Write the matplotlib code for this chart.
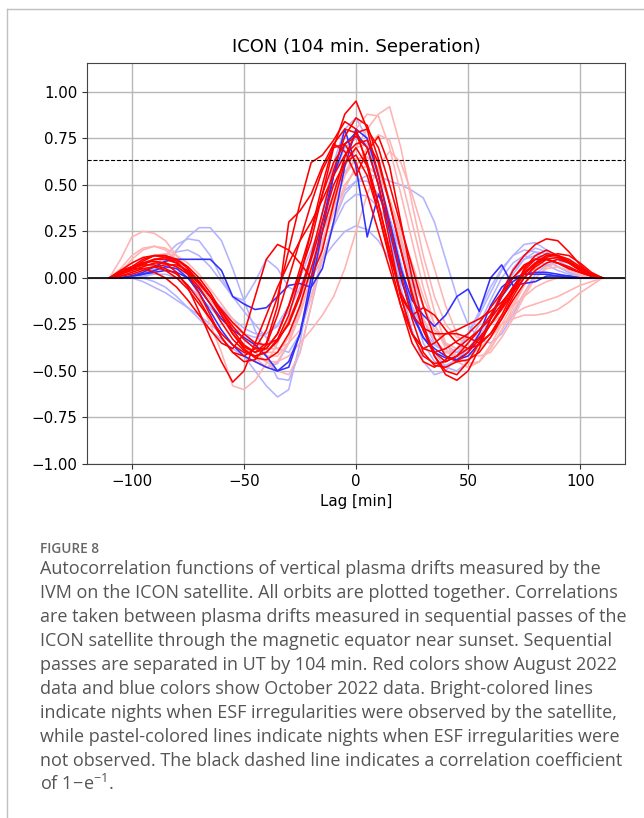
import matplotlib
matplotlib.use("Agg")
import matplotlib.pyplot as plt
from matplotlib.lines import Line2D
from matplotlib.ticker import FuncFormatter
import numpy as np

# lag grid [min], -110 .. 110 in 5 min steps
LAGS = np.arange(-110, 115, 5)

# August 2022, ESF observed (bright red)
AUG_ESF = [
    [0, 0.02, 0.05, 0.08, 0.1, 0.1, 0.08, 0.03, -0.03, -0.1, -0.18,
     -0.26, -0.33, -0.38, -0.38, -0.3, -0.15, 0.02, 0.2, 0.45, 0.7, 0.88, 0.95,
     0.8, 0.55, 0.28, 0.02, -0.22, -0.4, -0.47, -0.48, -0.45, -0.4, -0.33, -0.25,
     -0.16, -0.07, 0.02, 0.08, 0.12, 0.12, 0.1, 0.06, 0.02, 0],
    [0, 0.04, 0.06, 0.07, 0.07, 0.05, 0.02, -0.04, -0.12, -0.22, -0.32,
     -0.4, -0.42, -0.38, -0.28, -0.1, 0.15, 0.4, 0.62, 0.66, 0.74, 0.84, 0.8,
     0.6, 0.35, 0.1, -0.15, -0.35, -0.45, -0.48, -0.44, -0.38, -0.33, -0.28, -0.22,
     -0.14, -0.05, 0.03, 0.08, 0.1, 0.08, 0.06, 0.03, 0.01, 0],
    [0, 0.02, 0.06, 0.1, 0.12, 0.12, 0.1, 0.05, -0.02, -0.1, -0.2,
     -0.3, -0.37, -0.4, -0.35, -0.15, 0.3, 0.36, 0.45, 0.6, 0.72, 0.8, 0.78,
     0.62, 0.4, 0.15, -0.1, -0.3, -0.42, -0.46, -0.45, -0.42, -0.38, -0.32, -0.25,
     -0.17, -0.08, 0.0, 0.06, 0.1, 0.11, 0.08, 0.04, 0.01, 0],
    [0, 0.01, 0.03, 0.05, 0.06, 0.04, 0.0, -0.06, -0.14, -0.22, -0.3,
     -0.36, -0.4, -0.42, -0.4, -0.33, -0.2, 0.0, 0.25, 0.5, 0.72, 0.68, 0.55,
     0.68, 0.76, 0.6, 0.3, 0.0, -0.25, -0.42, -0.5, -0.52, -0.45, -0.35, -0.25,
     -0.15, -0.05, 0.04, 0.1, 0.13, 0.12, 0.09, 0.05, 0.02, 0],
    [0, 0.03, 0.05, 0.05, 0.03, 0.0, -0.05, -0.12, -0.2, -0.28, -0.35,
     -0.38, -0.3, -0.1, 0.1, 0.18, 0.15, 0.08, 0.0, 0.15, 0.4, 0.62, 0.7,
     0.6, 0.4, 0.15, -0.1, -0.3, -0.38, -0.35, -0.3, -0.3, -0.32, -0.35, -0.3,
     -0.2, -0.08, 0.05, 0.12, 0.15, 0.12, 0.08, 0.04, 0.01, 0],
    [0, 0.03, 0.06, 0.08, 0.09, 0.08, 0.03, -0.05, -0.18, -0.32, -0.45,
     -0.56, -0.5, -0.35, -0.2, -0.05, 0.08, 0.2, 0.3, 0.42, 0.55, 0.66, 0.72,
     0.74, 0.62, 0.4, 0.15, -0.1, -0.28, -0.4, -0.45, -0.42, -0.35, -0.28, -0.2,
     -0.1, 0.0, 0.07, 0.1, 0.1, 0.08, 0.05, 0.03, 0.01, 0],
    [0, 0.02, 0.04, 0.06, 0.08, 0.08, 0.06, 0.02, -0.05, -0.14, -0.24,
     -0.33, -0.39, -0.42, -0.4, -0.34, -0.24, -0.08, 0.12, 0.35, 0.58, 0.76, 0.86,
     0.82, 0.64, 0.4, 0.15, -0.08, -0.28, -0.42, -0.52, -0.55, -0.5, -0.38, -0.22,
     -0.08, 0.04, 0.12, 0.18, 0.21, 0.2, 0.14, 0.07, 0.02, 0],
    [0, 0.03, 0.05, 0.07, 0.1, 0.11, 0.1, 0.06, 0.0, -0.08, -0.18,
     -0.28, -0.36, -0.4, -0.38, -0.3, -0.15, 0.05, 0.25, 0.45, 0.62, 0.72, 0.76,
     0.7, 0.5, 0.2, -0.1, -0.2, -0.16, -0.2, -0.28, -0.35, -0.38, -0.36, -0.3,
     -0.22, -0.12, -0.03, 0.04, 0.08, 0.1, 0.08, 0.05, 0.02, 0],
    [0, 0.01, 0.02, 0.04, 0.06, 0.07, 0.07, 0.04, -0.02, -0.1, -0.2,
     -0.3, -0.38, -0.43, -0.44, -0.4, -0.3, -0.15, 0.05, 0.25, 0.45, 0.65, 0.78,
     0.8, 0.7, 0.5, 0.28, 0.06, -0.15, -0.32, -0.42, -0.45, -0.44, -0.4, -0.32,
     -0.22, -0.1, 0.0, 0.07, 0.11, 0.13, 0.12, 0.08, 0.03, 0],
    [0, 0.04, 0.08, 0.11, 0.12, 0.11, 0.08, 0.03, -0.03, -0.1, -0.17,
     -0.24, -0.3, -0.35, -0.36, -0.33, -0.25, -0.1, 0.1, 0.3, 0.5, 0.62, 0.66,
     0.55, 0.35, 0.12, -0.08, -0.2, -0.27, -0.3, -0.3, -0.28, -0.25, -0.22, -0.18,
     -0.13, -0.06, 0.02, 0.08, 0.12, 0.12, 0.09, 0.05, 0.02, 0],
    [0, 0.02, 0.05, 0.09, 0.12, 0.12, 0.09, 0.02, -0.08, -0.2, -0.32,
     -0.4, -0.45, -0.44, -0.36, -0.2, 0.0, 0.2, 0.4, 0.58, 0.7, 0.72, 0.62,
     0.45, 0.25, 0.05, -0.15, -0.3, -0.38, -0.4, -0.38, -0.34, -0.3, -0.24, -0.16,
     -0.08, 0.0, 0.06, 0.1, 0.1, 0.08, 0.05, 0.03, 0.01, 0],
]

# August 2022, no ESF (pastel red)
AUG_QUIET = [
    [0, 0.1, 0.22, 0.25, 0.24, 0.2, 0.12, 0.02, -0.1, -0.25, -0.4,
     -0.58, -0.6, -0.55, -0.46, -0.35, -0.22, -0.1, 0.05, 0.2, 0.38, 0.55, 0.7,
     0.8, 0.88, 0.92, 0.7, 0.4, 0.12, -0.1, -0.25, -0.32, -0.33, -0.3, -0.25,
     -0.2, -0.15, -0.1, -0.05, -0.02, 0.0, 0.01, 0.01, 0.0, 0],
    [0, 0.05, 0.12, 0.16, 0.17, 0.15, 0.1, 0.03, -0.05, -0.14, -0.22,
     -0.3, -0.36, -0.4, -0.45, -0.5, -0.52, -0.4, -0.15, 0.15, 0.42, 0.65, 0.8,
     0.88, 0.87, 0.7, 0.45, 0.2, -0.05, -0.25, -0.38, -0.45, -0.48, -0.45, -0.38,
     -0.28, -0.18, -0.08, 0.0, 0.05, 0.06, 0.04, 0.02, 0.01, 0],
    [0, 0.02, 0.05, 0.08, 0.1, 0.1, 0.08, 0.04, -0.02, -0.1, -0.18,
     -0.26, -0.33, -0.38, -0.42, -0.42, -0.35, -0.2, 0.0, 0.2, 0.4, 0.55, 0.64,
     0.65, 0.58, 0.42, 0.22, 0.02, -0.15, -0.28, -0.35, -0.38, -0.38, -0.35, -0.3,
     -0.25, -0.22, -0.2, -0.2, -0.19, -0.17, -0.13, -0.08, -0.04, 0],
    [0, 0.03, 0.06, 0.1, 0.12, 0.13, 0.12, 0.08, 0.02, -0.06, -0.14,
     -0.22, -0.3, -0.36, -0.4, -0.4, -0.32, -0.15, 0.05, 0.25, 0.45, 0.6, 0.7,
     0.72, 0.62, 0.42, 0.18, -0.05, -0.22, -0.33, -0.4, -0.42, -0.42, -0.38, -0.32,
     -0.25, -0.2, -0.16, -0.14, -0.12, -0.1, -0.07, -0.04, -0.02, 0],
    [0, 0.03, 0.1, 0.15, 0.17, 0.16, 0.12, 0.05, -0.03, -0.12, -0.2,
     -0.28, -0.36, -0.43, -0.48, -0.45, -0.35, -0.18, 0.0, 0.18, 0.35, 0.5, 0.58,
     0.6, 0.55, 0.42, 0.25, 0.08, -0.1, -0.25, -0.35, -0.42, -0.46, -0.45, -0.38,
     -0.28, -0.16, -0.04, 0.05, 0.1, 0.12, 0.1, 0.06, 0.02, 0],
    [0, 0.02, 0.04, 0.06, 0.08, 0.08, 0.06, 0.02, -0.04, -0.1, -0.17,
     -0.24, -0.3, -0.35, -0.38, -0.38, -0.35, -0.28, -0.1, 0.1, 0.3, 0.48, 0.6,
     0.7, 0.77, 0.74, 0.55, 0.3, 0.05, -0.18, -0.35, -0.45, -0.48, -0.45, -0.36,
     -0.25, -0.14, -0.04, 0.04, 0.08, 0.1, 0.08, 0.04, 0.02, 0],
    [0, 0.02, 0.05, 0.08, 0.1, 0.1, 0.08, 0.04, -0.02, -0.1, -0.2,
     -0.3, -0.38, -0.42, -0.45, -0.45, -0.42, -0.35, -0.28, -0.2, -0.1, 0.05, 0.25,
     0.45, 0.6, 0.68, 0.62, 0.45, 0.25, 0.05, -0.15, -0.3, -0.4, -0.42, -0.4,
     -0.32, -0.22, -0.1, 0.0, 0.06, 0.08, 0.06, 0.03, 0.01, 0],
]

# October 2022, ESF observed (bright blue)
OCT_ESF = [
    [0, 0.0, 0.01, 0.02, 0.04, 0.06, 0.05, 0.0, -0.08, -0.18, -0.28,
     -0.36, -0.42, -0.45, -0.48, -0.5, -0.45, -0.3, -0.05, 0.25, 0.55, 0.8, 0.6,
     0.22, 0.45, 0.3, 0.05, -0.18, -0.32, -0.4, -0.43, -0.44, -0.4, -0.3, -0.15,
     -0.05, 0.0, 0.02, 0.02, 0.02, 0.01, 0.01, 0.0, 0.0, 0],
    [0, 0.0, 0.01, 0.03, 0.06, 0.09, 0.1, 0.1, 0.1, 0.1, 0.04,
     -0.1, -0.14, -0.17, -0.16, -0.1, -0.04, -0.03, -0.05, 0.05, 0.3, 0.6, 0.8,
     0.75, 0.55, 0.3, 0.05, -0.12, -0.2, -0.26, -0.2, -0.1, -0.06, -0.18, 0.0,
     0.07, -0.04, -0.03, -0.02, 0.01, 0.01, 0.0, 0.0, 0.0, 0],
    [0, 0.0, 0.01, 0.02, 0.03, 0.04, 0.03, 0.0, -0.06, -0.14, -0.22,
     -0.28, -0.32, -0.36, -0.42, -0.5, -0.48, -0.3, 0.0, 0.3, 0.55, 0.72, 0.78,
     0.7, 0.5, 0.25, 0.0, -0.2, -0.32, -0.38, -0.42, -0.44, -0.42, -0.35, -0.22,
     -0.1, -0.02, 0.02, 0.03, 0.03, 0.02, 0.01, 0.0, 0.0, 0],
]

# October 2022, no ESF (pastel blue)
OCT_QUIET = [
    [0, 0.0, 0.0, -0.02, -0.05, -0.08, -0.12, -0.16, -0.2, -0.25, -0.3,
     -0.36, -0.42, -0.5, -0.58, -0.64, -0.6, -0.35, 0.0, 0.35, 0.62, 0.8, 0.86,
     0.75, 0.5, 0.22, -0.05, -0.28, -0.45, -0.52, -0.5, -0.42, -0.3, -0.18, -0.05,
     0.05, 0.12, 0.15, 0.14, 0.1, 0.06, 0.03, 0.01, 0.0, 0],
    [0, 0.0, 0.0, 0.0, 0.03, 0.08, 0.15, 0.22, 0.27, 0.27, 0.2,
     0.05, -0.12, -0.28, -0.42, -0.54, -0.55, -0.4, -0.15, 0.1, 0.3, 0.45, 0.52,
     0.52, 0.45, 0.32, 0.15, -0.05, -0.25, -0.4, -0.48, -0.5, -0.45, -0.35, -0.22,
     -0.08, 0.05, 0.12, 0.16, 0.14, 0.1, 0.05, 0.02, 0.0, 0],
    [0, 0.0, 0.0, 0.02, 0.06, 0.12, 0.18, 0.21, 0.2, 0.12, 0.0,
     -0.1, -0.12, -0.02, 0.1, 0.05, -0.05, -0.08, 0.0, 0.1, 0.18, 0.25, 0.28,
     0.26, 0.2, 0.1, -0.02, -0.15, -0.28, -0.36, -0.4, -0.38, -0.3, -0.2, -0.08,
     0.04, 0.12, 0.18, 0.19, 0.15, 0.1, 0.05, 0.02, 0.0, 0],
    [0, 0.0, 0.01, 0.03, 0.05, 0.06, 0.05, 0.02, -0.04, -0.1, -0.16,
     -0.22, -0.27, -0.3, -0.3, -0.26, -0.18, -0.05, 0.1, 0.25, 0.38, 0.47, 0.52,
     0.55, 0.55, 0.52, 0.5, 0.47, 0.43, 0.3, 0.1, -0.1, -0.25, -0.33, -0.35,
     -0.3, -0.2, -0.08, 0.02, 0.07, 0.08, 0.06, 0.03, 0.01, 0],
    [0, 0.0, 0.0, 0.0, -0.02, -0.05, -0.1, -0.16, -0.22, -0.28, -0.33,
     -0.38, -0.42, -0.45, -0.48, -0.46, -0.35, -0.15, 0.1, 0.35, 0.55, 0.7, 0.75,
     0.72, 0.55, 0.32, 0.08, -0.15, -0.35, -0.45, -0.47, -0.44, -0.38, -0.3, -0.2,
     -0.08, 0.04, 0.1, 0.12, 0.1, 0.06, 0.03, 0.01, 0.0, 0],
    [0, 0.0, 0.0, 0.01, 0.02, 0.02, 0.0, -0.04, -0.1, -0.16, -0.22,
     -0.27, -0.3, -0.32, -0.3, -0.25, -0.15, 0.0, 0.15, 0.3, 0.45, 0.57, 0.64,
     0.65, 0.58, 0.42, 0.2, -0.02, -0.22, -0.35, -0.4, -0.4, -0.35, -0.25, -0.12,
     0.0, 0.08, 0.12, 0.1, 0.07, 0.04, 0.02, 0.01, 0.0, 0],
    [0, 0.0, 0.0, 0.02, 0.05, 0.1, 0.14, 0.15, 0.12, 0.06, -0.02,
     -0.1, -0.18, -0.25, -0.32, -0.38, -0.4, -0.3, -0.1, 0.1, 0.28, 0.4, 0.45,
     0.44, 0.38, 0.28, 0.15, 0.0, -0.15, -0.28, -0.36, -0.4, -0.38, -0.32, -0.22,
     -0.1, 0.02, 0.1, 0.14, 0.13, 0.1, 0.05, 0.02, 0.0, 0],
]

THRESHOLD = 1 - np.exp(-1)

CAPTION = [
    "Autocorrelation functions of vertical plasma drifts measured by the",
    "IVM on the ICON satellite. All orbits are plotted together. Correlations",
    "are taken between plasma drifts measured in sequential passes of the",
    "ICON satellite through the magnetic equator near sunset. Sequential",
    "passes are separated in UT by 104 min. Red colors show August 2022",
    "data and blue colors show October 2022 data. Bright-colored lines",
    "indicate nights when ESF irregularities were observed by the satellite,",
    "while pastel-colored lines indicate nights when ESF irregularities were",
    "not observed. The black dashed line indicates a correlation coefficient",
    r"of $\mathregular{1\!-\!e^{-1}}$.",
]

W, H = 644, 818
fig = plt.figure(figsize=(W / 100, H / 100), dpi=100)
ax = fig.add_axes([87 / W, 1 - 464 / H, (625 - 87) / W, (464 - 63) / H])

line_kw = dict(lw=1.15, solid_joinstyle="round", solid_capstyle="round")
for vals in OCT_QUIET:
    ax.plot(LAGS, vals, color="#b3b3ff", **line_kw)
for vals in AUG_QUIET:
    ax.plot(LAGS, vals, color="#ffb3b3", **line_kw)
for vals in OCT_ESF:
    ax.plot(LAGS, vals, color="#3030ff", **line_kw)
for vals in AUG_ESF:
    ax.plot(LAGS, vals, color="#ff0000", **line_kw)

ax.axhline(0, color="black", lw=1.2)
ax.axhline(THRESHOLD, color="black", lw=0.8, ls="--")

ax.set_xlim(-120, 120)
ax.set_ylim(-1, 1.155)
ax.set_xticks([-100, -50, 0, 50, 100])
ax.set_yticks(np.arange(-1, 1.01, 0.25))
ax.yaxis.set_major_formatter(FuncFormatter(lambda v, p: f"{v:.2f}".replace("-", "\u2212")))
ax.grid(True, color="#b8b8b8", lw=1.0)
ax.set_axisbelow(True)
ax.tick_params(labelsize=10.8, color="#333333")
for sp in ax.spines.values():
    sp.set_color("#444444")
ax.set_title("ICON (104 min. Seperation)", fontsize=13, pad=8)
ax.set_xlabel("Lag [min]", fontsize=10.8)

# page frame lines
fig.add_artist(Line2D([7 / W, 1], [1 - 9 / H, 1 - 9 / H], color="#c0c0c0", lw=1.0))
fig.add_artist(Line2D([7 / W, 7 / W], [0, 1 - 9 / H], color="#c0c0c0", lw=1.0))

fig.text(40 / W, 1 - 553 / H, "FIGURE 8", fontsize=9.8, color="#666666",
         family="Open Sans", weight="semibold", va="baseline")
for k, line in enumerate(CAPTION):
    fig.text(40 / W, 1 - (574 + 24 * k) / H, line, fontsize=13,
             color="#555555", family="Open Sans", va="baseline")

fig.savefig("out.png", dpi=100)
